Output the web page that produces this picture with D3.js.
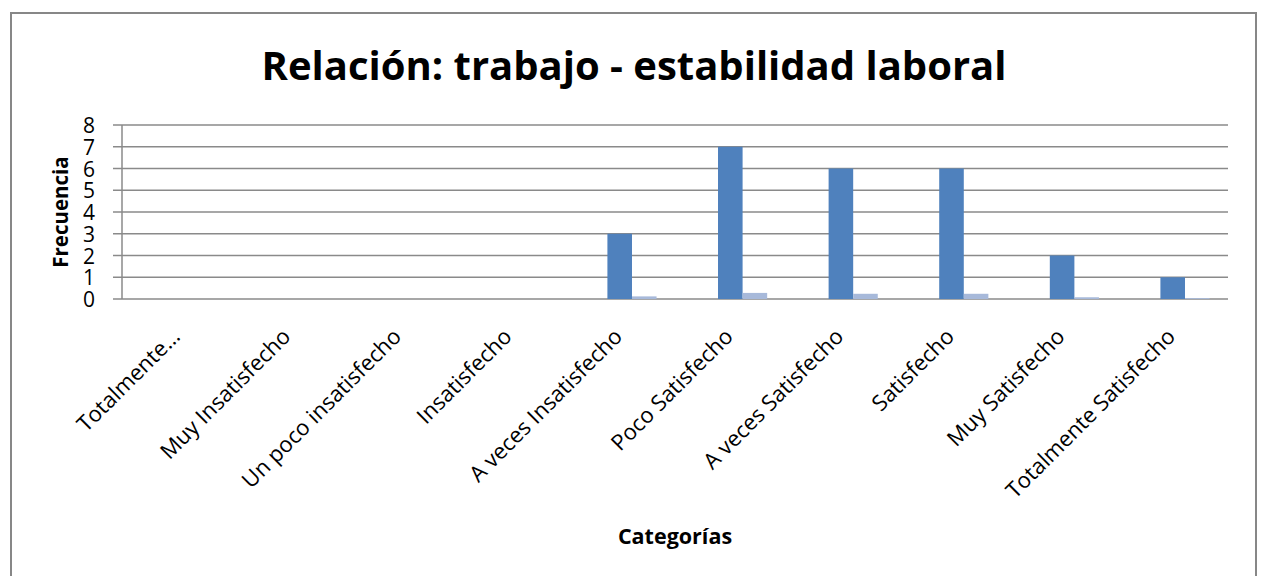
<!DOCTYPE html>
<html>
<head>
<meta charset="utf-8">
<script src="https://cdn.jsdelivr.net/npm/d3@7"></script>
<style>
  body { margin: 0; background: #fff; }
  text { font-family: "Open Sans", Lato, sans-serif; fill: #000; }
</style>
</head>
<body>
<div id="chart"></div>
<script>
// categorias y series
const categories = ["Totalmente…", "Muy Insatisfecho", "Un poco insatisfecho", "Insatisfecho",
  "A veces Insatisfecho", "Poco Satisfecho", "A veces Satisfecho", "Satisfecho",
  "Muy Satisfecho", "Totalmente Satisfecho"];
const seriesKeys = ["serie0", "frecuencia", "relativa"];
const serie0 = [0, 0, 0, 0, 0, 0, 0, 0, 0, 0];
const frecuencia = [0, 0, 0, 0, 3, 7, 6, 6, 2, 1];
const relativa = [0, 0, 0, 0, 0.12, 0.28, 0.24, 0.24, 0.08, 0.04];
const yTicks = [0, 1, 2, 3, 4, 5, 6, 7, 8];
const colors = { serie0: "none", frecuencia: "#4f81bd", relativa: "#a7b9da" };

const W = 1261, H = 576;
const margin = { top: 125, right: 33, bottom: 277, left: 122 };
const width = W - margin.left - margin.right;
const height = H - margin.top - margin.bottom;

const svgRoot = d3.select("#chart").append("svg")
  .attr("width", W).attr("height", H);

// marco
svgRoot.append("rect")
  .attr("x", 11).attr("y", 13).attr("width", 1245).attr("height", 580)
  .attr("fill", "#fff").attr("stroke", "#878787").attr("stroke-width", 2);

svgRoot.append("text")
  .attr("x", 634).attr("y", 80)
  .attr("text-anchor", "middle")
  .style("font-size", "40px").style("font-weight", "bold")
  .text("Relación: trabajo - estabilidad laboral");

const svg = svgRoot.append("g")
  .attr("transform", `translate(${margin.left},${margin.top})`);

const x0 = d3.scaleBand().domain(categories).range([0, width]).paddingInner(0).paddingOuter(0);
const x1 = d3.scaleBand().domain(seriesKeys).range([0, x0.bandwidth()]).paddingInner(0).paddingOuter(0.75);
const y = d3.scaleLinear().domain([0, 8]).range([height, 0]);

// lineas de cuadricula
svg.append("g")
  .selectAll("line")
  .data(yTicks)
  .enter().append("line")
  .attr("x1", -9).attr("x2", width)
  .attr("y1", d => y(d)).attr("y2", d => y(d))
  .attr("stroke", "#8a8a8a").attr("stroke-width", 1.5);

svg.append("line")
  .attr("x1", 0).attr("x2", 0).attr("y1", 0).attr("y2", height)
  .attr("stroke", "#8a8a8a").attr("stroke-width", 1.5);

const data = categories.map((c, i) => ({
  cat: c,
  serie0: serie0[i], frecuencia: frecuencia[i], relativa: relativa[i]
}));

const groups = svg.selectAll(".grp")
  .data(data)
  .enter().append("g")
  .attr("transform", d => `translate(${x0(d.cat)},0)`);

groups.selectAll("rect")
  .data(d => seriesKeys.map(k => ({ key: k, value: d[k] })))
  .enter().append("rect")
  .attr("x", d => x1(d.key))
  .attr("width", x1.bandwidth())
  .attr("y", d => y(d.value))
  .attr("height", d => y(0) - y(d.value))
  .attr("fill", d => colors[d.key]);

// eje y
const yAxis = svg.append("g")
  .call(d3.axisLeft(y).tickValues(yTicks).tickSize(0).tickPadding(27));
yAxis.select(".domain").remove();
yAxis.selectAll("text")
  .style("font-size", "21px").style("font-family", "'Open Sans', sans-serif")
  .attr("dy", "0.36em");

// etiquetas x
svg.append("g")
  .selectAll("text")
  .data(categories)
  .enter().append("text")
  .attr("text-anchor", "end")
  .attr("transform", d => `translate(${x0(d) + x0.bandwidth() / 2 + 4},${height + 39}) rotate(-45)`)
  .style("font-size", "22px")
  .text(d => d);

svgRoot.append("text")
  .attr("transform", `translate(68,${margin.top + height / 2}) rotate(-90)`)
  .attr("text-anchor", "middle")
  .style("font-size", "20.5px").style("font-weight", "bold")
  .text("Frecuencia");

svgRoot.append("text")
  .attr("x", margin.left + width / 2).attr("y", 544)
  .attr("text-anchor", "middle")
  .style("font-size", "21.5px").style("font-weight", "bold")
  .text("Categorías");
</script>
</body>
</html>
